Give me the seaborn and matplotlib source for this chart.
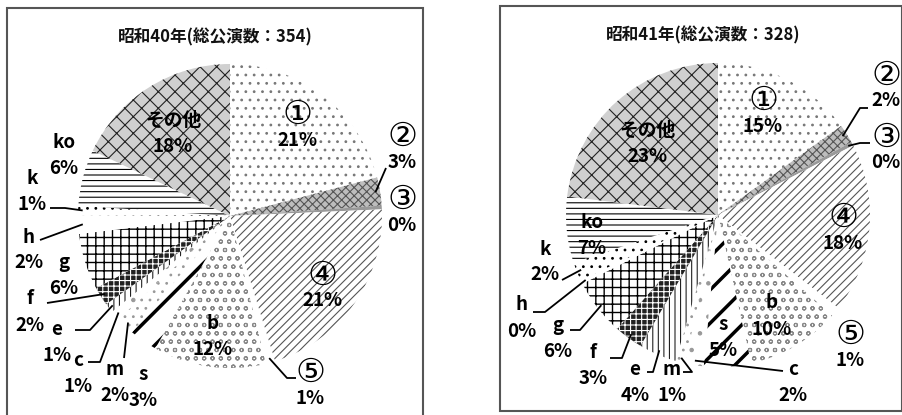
import numpy as np
import matplotlib
matplotlib.use('Agg')
import matplotlib.pyplot as plt
import seaborn as sns
from matplotlib.patches import Rectangle

# ---------------- data ----------------
labels40 = ['①', '②', '③', '④', '⑤', 'b', 's', 'm', 'c', 'e', 'f', 'g', 'h', 'k', 'ko', 'その他']
values40 = [21, 3, 0.4, 21, 1, 12, 3, 2, 1, 1, 2, 6, 2, 1, 6, 18]
labels41 = ['①', '②', '③', '④', '⑤', 'b', 's', 'c', 'm', 'e', 'f', 'g', 'h', 'k', 'ko', 'その他']
values41 = [15, 2, 0.4, 18, 1, 10, 5, 2, 1, 4, 3, 6, 0.4, 2, 7, 23]
titles = ['昭和40年(総公演数：354)', '昭和41年(総公演数：328)']

# ---------------- styles ----------------
sns.set_theme(style='white')
plt.rcParams['font.family'] = ['Noto Sans CJK JP', 'DejaVu Sans']
plt.rcParams['hatch.linewidth'] = 0.8

STYLE = {
    '①': dict(fc='white', hatch='..', hc='#777777'),
    '②': dict(fc='#bdbdbd', hatch='xxxx', hc='#555555'),
    '③': dict(fc='#999999', hatch='', hc='#555555'),
    '④': dict(fc='white', hatch='////', hc='#555555'),
    '⑤': dict(fc='white', hatch='', hc='#444444'),
    'b': dict(fc='white', hatch='oo', hc='#888888'),
    's': dict(fc='white', hatch='/', hc='black', hlw=2.5),
    'm': dict(fc='white', hatch='..', hc='#999999'),
    'c': dict(fc='white', hatch='.', hc='#999999'),
    'e': dict(fc='white', hatch='|||', hc='#222222'),
    'f': dict(fc='#222222', hatch='+++', hc='white'),
    'g': dict(fc='white', hatch='++', hc='black', hlw=1.0),
    'h': dict(fc='white', hatch='', hc='black'),
    'k': dict(fc='white', hatch='..', hc='black'),
    'ko': dict(fc='white', hatch='---', hc='black'),
    'その他': dict(fc='#d0d0d0', hatch='xx', hc='#222222'),
}
CIRCLED = {'①', '②', '③', '④', '⑤'}

W, H = 903, 415

# layout (image pixel coordinates, y from top)
PANELS = [
    dict(frame=(7, 8, 423, 425), center=(230, 216), radius=152, title=(215, 37),
         text={'①': (297, 127), '②': (402, 149), '③': (402, 212), '④': (322, 288),
               '⑤': (310, 385), 'b': (213, 336), 's': (143, 387), 'm': (115, 382),
               'c': (78, 373), 'e': (57, 342), 'f': (30, 312), 'g': (64, 275),
               'h': (29, 250), 'k': (32, 191), 'ko': (64, 156), 'その他': (173, 133)},
         leaders={'②': [(386, 168)], '⑤': [(287, 378), (296, 378)], 'm': [(124, 358)],
                  'c': [(100, 362), (88, 362)], 'e': [(90, 330), (75, 330)],
                  'f': [(47, 303)], 'h': [(40, 240)], 'k': [(65, 208), (50, 208)]}),
    dict(frame=(500, 6, 902, 411), center=(718, 215), radius=152, title=(703, 35),
         text={'①': (763, 113), '②': (886, 88), '③': (886, 150), '④': (843, 230),
               '⑤': (850, 347), 'b': (772, 316), 's': (723, 337), 'c': (793, 382),
               'm': (672, 382), 'e': (635, 382), 'f': (593, 365), 'g': (558, 338),
               'h': (522, 318), 'k': (545, 262), 'ko': (592, 235), 'その他': (647, 143)},
         leaders={'②': [(860, 108), (868, 108)], '③': [(860, 143), (870, 143)],
                  'c': [(783, 371)], 'm': [(692, 372), (683, 372)],
                  'e': [(653, 372), (647, 372)], 'f': [(622, 358), (610, 358)],
                  'g': [(580, 330), (570, 330)], 'h': [(545, 312), (533, 312)],
                  'k': [(562, 280)]}),
]

fig = plt.figure(figsize=(W / 100, H / 100), dpi=100)
ax = fig.add_axes([0, 0, 1, 1])


def yd(y):
    return H - y


for names, vals, title, lay in zip([labels40, labels41], [values40, values41], titles, PANELS):
    cx, cy = lay['center']
    r = lay['radius']
    wedges, _ = ax.pie(vals, startangle=90, counterclock=False, center=(cx, yd(cy)),
                       radius=r, frame=True,
                       colors=[STYLE[n]['fc'] for n in names],
                       wedgeprops=dict(linewidth=0))
    for w, n in zip(wedges, names):
        st = STYLE[n]
        w.set_edgecolor(st['hc'])
        w.set_linewidth(0)
        if hasattr(w, 'set_hatchcolor'):
            w.set_hatchcolor(st['hc'])
        if st['hatch']:
            w.set_hatch(st['hatch'])
        if 'hlw' in st and hasattr(w, 'set_hatch_linewidth'):
            w.set_hatch_linewidth(st['hlw'])
    # labels
    for w, n, v in zip(wedges, names, vals):
        tx, ty = lay['text'][n]
        if n in CIRCLED:
            ax.text(tx, yd(ty - 13), n, ha='center', va='center',
                    fontsize=24, color='black', family=['DejaVu Sans'])
        else:
            ax.text(tx, yd(ty - 13), n, ha='center', va='center',
                    fontsize=13.5, fontweight='bold', color='black')
        ax.text(tx, yd(ty + 13), f'{round(v)}%', ha='center', va='center',
                fontsize=13.5, fontweight='bold', color='black')
        if n in lay['leaders']:
            ang = np.deg2rad((w.theta1 + w.theta2) / 2)
            sx = cx + r * 0.97 * np.cos(ang)
            sy = yd(cy) + r * 0.97 * np.sin(ang)
            pts = [(sx, sy)] + [(px, yd(py)) for px, py in lay['leaders'][n]]
            xs, ys = zip(*pts)
            ax.plot(xs, ys, color='black', lw=1.3, solid_capstyle='butt')
    # title
    ax.text(lay['title'][0], yd(lay['title'][1]), title, ha='center', va='center',
            fontsize=12, fontweight='bold', color='#111111')
    # frame
    x0, y0, x1, y1 = lay['frame']
    ax.add_patch(Rectangle((x0, yd(y1)), x1 - x0, y1 - y0, fill=False,
                           edgecolor='#555555', linewidth=1.5))

ax.set_xlim(0, W)
ax.set_ylim(0, H)
ax.set_aspect('auto')
ax.set_axis_off()
fig.savefig('out.png', dpi=100)
